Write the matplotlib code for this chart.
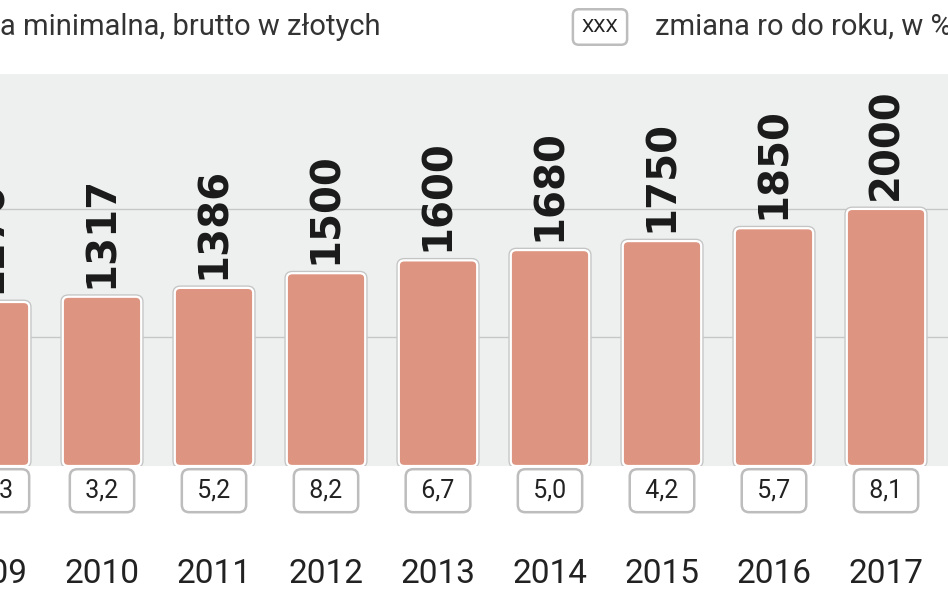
import matplotlib.pyplot as plt
from matplotlib.patches import FancyBboxPatch

years = ["2009", "2010", "2011", "2012", "2013", "2014", "2015", "2016", "2017", "2018"]
wage = [1276, 1317, 1386, 1500, 1600, 1680, 1750, 1850, 2000, 2100]
change = ["13,3", "3,2", "5,2", "8,2", "6,7", "5,0", "4,2", "5,7", "8,1", "5,0"]

BAR = "#dd9480"
NARROW = ["Liberation Sans Narrow", "DejaVu Sans Condensed", "DejaVu Sans"]

fig = plt.figure(figsize=(9.48, 5.93), dpi=100)
ax = fig.add_axes([0, 1 - 466 / 593, 1, (466 - 74) / 593])
ax.set_facecolor("#eef0f0")
x = list(range(len(years)))
bars = ax.bar(x, wage, width=0.7, color="none", edgecolor="none")
for b in bars:
    for ec, lw in (("#c4c4c4", 3.5), ("white", 1.6)):
        p = FancyBboxPatch((b.get_x(), 0), b.get_width(), b.get_height(),
                           boxstyle="round,pad=0,rounding_size=0.05",
                           mutation_aspect=800, facecolor=BAR, edgecolor=ec,
                           linewidth=lw, zorder=3)
        ax.add_patch(p)
for xi, v in zip(x, wage):
    ax.text(xi, v + 70, str(v), rotation=90, ha="center", va="bottom",
            fontsize=29, fontweight="bold", family=NARROW, color="#1a1a1a", zorder=4)
ax.set_xlim(10 / 112, 958 / 112)
ax.set_ylim(0, 3050)
for g in (1000, 2000):
    ax.axhline(g, color="#c6c8c8", lw=1, zorder=1)
ax.set_xticks([])
ax.set_yticks([])
for s in ax.spines.values():
    s.set_visible(False)

# change boxes and years, placed through the axes' x scale
tr = ax.get_xaxis_transform()
for xi, c, y in zip(x, change, years):
    ax.text(xi, -0.063, f" {c} ", transform=tr, ha="center", va="center", fontsize=18,
            family="Roboto", color="#222222", clip_on=False,
            bbox=dict(boxstyle="round,pad=0.38,rounding_size=0.3", fc="white",
                      ec="#bdbdbd", lw=1.8))
    ax.text(xi, -0.275, y, transform=tr, ha="center", va="center", fontsize=24,
            family="Roboto", color="#222222", clip_on=False)

fig.text(0, 1 - 27 / 593, "a minimalna, brutto w złotych", ha="left", va="center",
         fontsize=21, family="Roboto", color="#333333")
fig.text(600 / 948, 1 - 27 / 593, "XXX", ha="center", va="center", fontsize=14,
         family="Roboto", color="#222222",
         bbox=dict(boxstyle="round,pad=0.45,rounding_size=0.3", fc="white",
                   ec="#bdbdbd", lw=1.8))
fig.text(655 / 948, 1 - 27 / 593, "zmiana ro do roku, w %", ha="left", va="center",
         fontsize=21, family="Roboto", color="#333333")

fig.savefig("out.png", dpi=100)
